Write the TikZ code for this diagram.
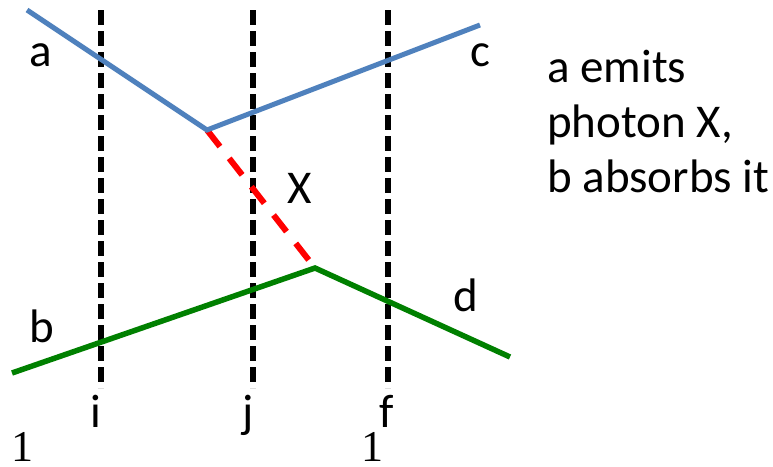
\documentclass[tikz,border=0pt]{standalone}
\usepackage{fontspec}
\setmainfont{Carlito}
\newfontfamily\numfont{Liberation Serif}
\definecolor{lblue}{HTML}{4F81BD}
\definecolor{lgreen}{HTML}{008000}
\begin{document}
\begin{tikzpicture}[x=1pt,y=-1pt,
  blueline/.style={draw=lblue,line width=5pt},
  greenline/.style={draw=lgreen,line width=5.5pt},
  photon/.style={draw=red,line width=6pt,dash pattern=on 21pt off 15pt},
  timeslice/.style={draw=black,line width=5.5pt,dash pattern=on 15pt off 6pt},
  lbl/.style={font=\fontsize{47}{55}\selectfont,inner sep=0pt},
  onelbl/.style={font=\numfont\fontsize{44}{52}\selectfont,inner sep=0pt,text depth=0pt}]
\useasboundingbox (0,0) rectangle (773,466);
% vertical time slices
\coordinate (it) at (101,10); \coordinate (ib) at (101,388);
\coordinate (jt) at (253,10); \coordinate (jb) at (253,388);
\coordinate (ft) at (388,10); \coordinate (fb) at (388,388);
\draw[timeslice] (it) -- (ib);
\draw[timeslice] (jt) -- (jb);
\draw[timeslice] (ft) -- (fb);
% particle lines
\coordinate (a0) at (27,10);
\coordinate (av) at (207,130);
\coordinate (c1) at (480,25);
\coordinate (b0) at (12,373);
\coordinate (bv) at (315,268);
\coordinate (d1) at (510,357);
\draw[photon] (av) -- (bv);
\draw[blueline] (a0) -- (av) -- (c1);
\draw[greenline] (b0) -- (bv) -- (d1);
% labels
\node[lbl] (la) at (41,55) {a};
\node[lbl] (lc) at (480,55) {c};
\node[lbl] (lb) at (42,326) {b};
\node[lbl] (ld) at (466,295) {d};
\node[lbl] (lx) at (300,188) {X};
\node[lbl,anchor=base] (li) at (96,427) {i};
\node[lbl,anchor=base] (lj) at (248,427) {j};
\node[lbl,anchor=base] (lf) at (387,427) {f};
\node[onelbl,anchor=base] (one1) at (23,461) {1};
\node[onelbl,anchor=base] (one2) at (372,461) {1};
\node[lbl,anchor=base west] (t1) at (547,82) {a emits};
\node[lbl,anchor=base west] (t2) at (547,137) {photon X,};
\node[lbl,anchor=base west] (t3) at (547,192) {b absorbs it};
\end{tikzpicture}
\end{document}
